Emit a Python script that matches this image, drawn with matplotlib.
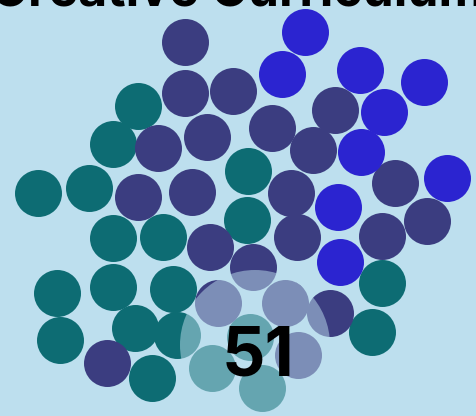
import matplotlib.pyplot as plt
from matplotlib.patches import Circle

# Bubble positions (pixel-like units, y grows downward) by group
slate_x = [185, 185, 233, 335, 272, 207, 158, 313, 395, 291, 138, 192, 427, 297, 382, 210, 253, 218, 285, 330, 298, 107]
slate_y = [42, 93, 91, 110, 128, 137, 148, 150, 183, 193, 197, 192, 221, 237, 236, 247, 267, 303, 303, 313, 355, 363]

blue_x = [305, 282, 360, 424, 384, 361, 447, 338, 340]
blue_y = [32, 74, 70, 82, 112, 152, 178, 207, 262]

teal_x = [138, 113, 248, 38, 89, 247, 113, 163, 57, 113, 173, 382, 60, 135, 177, 250, 212, 262, 152, 372]
teal_y = [106, 144, 171, 193, 188, 220, 238, 237, 293, 287, 289, 283, 340, 328, 335, 337, 368, 388, 378, 332]

title = "Creative Curriculum"
count_label = "51"

bg = "#bddfee"
colors = {"teal": "#0d6c73", "slate": "#3b3d80", "blue": "#2b24d0"}

dpi = 100
fig = plt.figure(figsize=(4.76, 4.16), dpi=dpi, facecolor=bg)
ax = fig.add_axes([0, 0, 1, 1])
ax.set_facecolor(bg)
ax.set_xlim(0, 476)
ax.set_ylim(416, 0)
ax.axis("off")

# marker size from a ~23.5px radius
r = 23.5
s = (2 * r * 72 / dpi) ** 2

ax.scatter(teal_x, teal_y, s=s, color=colors["teal"], linewidths=0)
ax.scatter(slate_x, slate_y, s=s, color=colors["slate"], linewidths=0)
ax.scatter(blue_x, blue_y, s=s, color=colors["blue"], linewidths=0)

# highlight lens around the count
ax.add_patch(Circle((255, 345), 75, facecolor=bg, alpha=0.5, edgecolor="none", zorder=3))

ax.text(258, 358, count_label, fontsize=49, fontweight="bold", family="Inter",
        ha="center", va="center", color="black", zorder=4)

# title is cropped off at the top of the picture, as in the source
ax.text(238, 5, title, fontsize=36, fontweight="bold", family="Inter",
        ha="center", va="baseline", color="black", zorder=4)

fig.savefig("out.png", dpi=dpi, facecolor=bg)
